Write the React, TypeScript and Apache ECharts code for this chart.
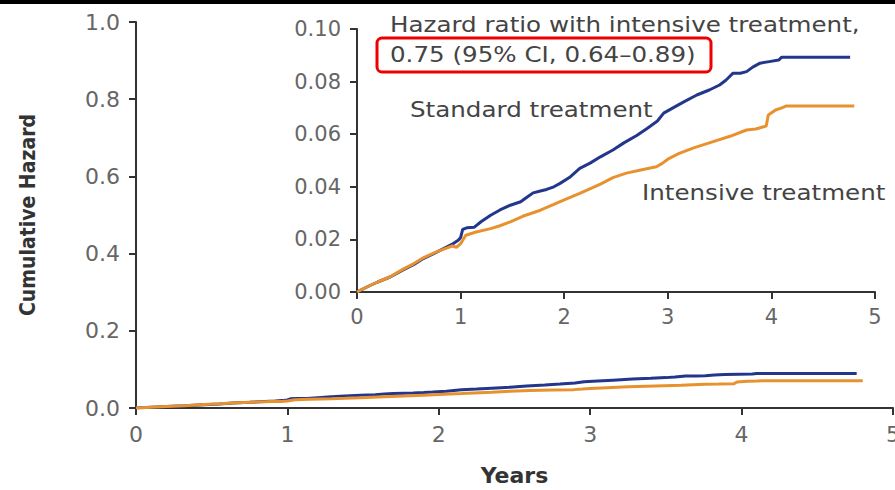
import React, { useEffect, useRef } from "react";
import * as echarts from "echarts";

const stdYears = [0, 0.1, 0.2, 0.32, 0.45, 0.55, 0.64, 0.75, 0.85, 0.92, 0.98, 1.0, 1.02, 1.06, 1.13, 1.2, 1.29, 1.38, 1.48, 1.58, 1.64, 1.7, 1.77, 1.83, 1.9, 1.96, 2.05, 2.15, 2.25, 2.35, 2.47, 2.58, 2.7, 2.8, 2.9, 2.96, 3.05, 3.15, 3.28, 3.4, 3.5, 3.56, 3.63, 3.7, 3.76, 3.82, 3.89, 3.98, 4.07, 4.1, 4.76];
const stdHazard = [0, 0.002, 0.0038, 0.0057, 0.0085, 0.0105, 0.0127, 0.0148, 0.0168, 0.0182, 0.0198, 0.0207, 0.0238, 0.0244, 0.0246, 0.0268, 0.0292, 0.0312, 0.033, 0.0343, 0.036, 0.0377, 0.0384, 0.039, 0.04, 0.0413, 0.0435, 0.047, 0.049, 0.0514, 0.054, 0.0568, 0.0595, 0.0622, 0.065, 0.068, 0.07, 0.0722, 0.0749, 0.0768, 0.0787, 0.0805, 0.0832, 0.0832, 0.0838, 0.0855, 0.087, 0.0876, 0.0882, 0.0893, 0.0893];

const intYears = [0, 0.1, 0.2, 0.32, 0.45, 0.55, 0.64, 0.75, 0.85, 0.92, 0.96, 1.0, 1.05, 1.15, 1.29, 1.38, 1.48, 1.6, 1.77, 1.9, 2.0, 2.15, 2.35, 2.47, 2.6, 2.75, 2.89, 2.95, 3.0, 3.11, 3.25, 3.43, 3.6, 3.76, 3.85, 3.95, 3.97, 4.04, 4.1, 4.14, 4.8];
const intHazard = [0, 0.002, 0.0038, 0.0058, 0.0088, 0.0108, 0.013, 0.015, 0.0165, 0.0175, 0.017, 0.0184, 0.0216, 0.0228, 0.0241, 0.0252, 0.0267, 0.0288, 0.0311, 0.0333, 0.035, 0.0375, 0.041, 0.0435, 0.0452, 0.0465, 0.0476, 0.049, 0.0505, 0.0527, 0.0548, 0.0571, 0.0592, 0.0616, 0.062, 0.0631, 0.0673, 0.0692, 0.07, 0.0707, 0.0707];

const seriesNames = ["Standard treatment", "Intensive treatment"];
const hazardTitle = "Hazard ratio with intensive treatment,";
const hazardValue = "0.75 (95% CI, 0.64\u20130.89)";

const BLUE = "#22378c";
const ORANGE = "#e8922f";
const FONT = "DejaVu Sans";

const pairs = (xs: number[], ys: number[]) => xs.map((x, i) => [x, ys[i]]);

export default function App() {
  const ref = useRef<HTMLDivElement>(null);
  useEffect(() => {
    if (!ref.current) return;
    const chart = echarts.init(ref.current, null, { renderer: "svg" });
    const axisLabel = (fs: number, margin: number, fmt?: (v: number) => string) => ({
      fontFamily: FONT,
      fontSize: fs,
      color: "#666",
      margin,
      formatter: fmt,
    });
    const axisLine = { lineStyle: { color: "#333", width: 2 } };
    const axisTick = { length: 7, lineStyle: { color: "#333", width: 2 } };
    const label = (text: string, x: number, y: number) => ({
      type: "text",
      x,
      y,
      scaleX: 1.17,
      style: { text, fontFamily: FONT, fontSize: 21, fill: "#444", textVerticalAlign: "middle" },
    });
    chart.setOption({
      animation: false,
      backgroundColor: "#fff",
      grid: [
        { left: 136, right: 2, top: 22, bottom: 82, outerBoundsMode: "none", containLabel: false },
        { left: 357, right: 20, top: 29, bottom: 198, outerBoundsMode: "none", containLabel: false },
      ],
      xAxis: [
        {
          gridIndex: 0,
          type: "value",
          min: 0,
          max: 5,
          interval: 1,
          name: "Years",
          nameLocation: "middle",
          nameGap: 56,
          nameTextStyle: { fontFamily: FONT, fontWeight: "bold", fontSize: 22, color: "#333" },
          splitLine: { show: false },
          axisLine,
          axisTick,
          axisLabel: axisLabel(22, 15),
        },
        {
          gridIndex: 1,
          type: "value",
          min: 0,
          max: 5,
          interval: 1,
          splitLine: { show: false },
          axisLine,
          axisTick,
          axisLabel: axisLabel(21, 14),
        },
      ],
      yAxis: [
        {
          gridIndex: 0,
          type: "value",
          min: 0,
          max: 1,
          interval: 0.2,
          name: "Cumulative Hazard",
          nameLocation: "middle",
          nameGap: 98,
          nameRotate: 90,
          nameTextStyle: { fontFamily: "DejaVu Sans Condensed", fontWeight: "bold", fontSize: 21, color: "#333" },
          splitLine: { show: false },
          axisLine,
          axisTick,
          axisLabel: axisLabel(22, 16, (v: number) => v.toFixed(1)),
        },
        {
          gridIndex: 1,
          type: "value",
          min: 0,
          max: 0.1,
          interval: 0.02,
          splitLine: { show: false },
          axisLine,
          axisTick,
          axisLabel: axisLabel(21, 16, (v: number) => v.toFixed(2)),
        },
      ],
      series: [
        {
          name: seriesNames[0],
          type: "line",
          xAxisIndex: 0,
          yAxisIndex: 0,
          data: pairs(stdYears, stdHazard),
          showSymbol: false,
          lineStyle: { color: BLUE, width: 3 },
        },
        {
          name: seriesNames[1],
          type: "line",
          xAxisIndex: 0,
          yAxisIndex: 0,
          data: pairs(intYears, intHazard),
          showSymbol: false,
          lineStyle: { color: ORANGE, width: 3 },
        },
        {
          name: seriesNames[0] + " (inset)",
          type: "line",
          xAxisIndex: 1,
          yAxisIndex: 1,
          data: pairs(stdYears, stdHazard),
          showSymbol: false,
          lineStyle: { color: BLUE, width: 3 },
        },
        {
          name: seriesNames[1] + " (inset)",
          type: "line",
          xAxisIndex: 1,
          yAxisIndex: 1,
          data: pairs(intYears, intHazard),
          showSymbol: false,
          lineStyle: { color: ORANGE, width: 3 },
        },
      ],
      graphic: [
        { type: "rect", left: 0, top: 0, shape: { width: 895, height: 4 }, style: { fill: "#000" } },
        label(hazardTitle, 390, 25),
        label(hazardValue, 390, 55),
        {
          type: "rect",
          shape: { x: 377, y: 38, width: 334, height: 34, r: 5 },
          style: { fill: "none", stroke: "#ee0000", lineWidth: 3 },
        },
        label(seriesNames[0], 410, 110),
        label(seriesNames[1], 642, 193),
      ],
    });
    return () => chart.dispose();
  }, []);
  return <div ref={ref} style={{ width: 895, height: 490, position: "absolute", left: 0, top: 0 }} />;
}
